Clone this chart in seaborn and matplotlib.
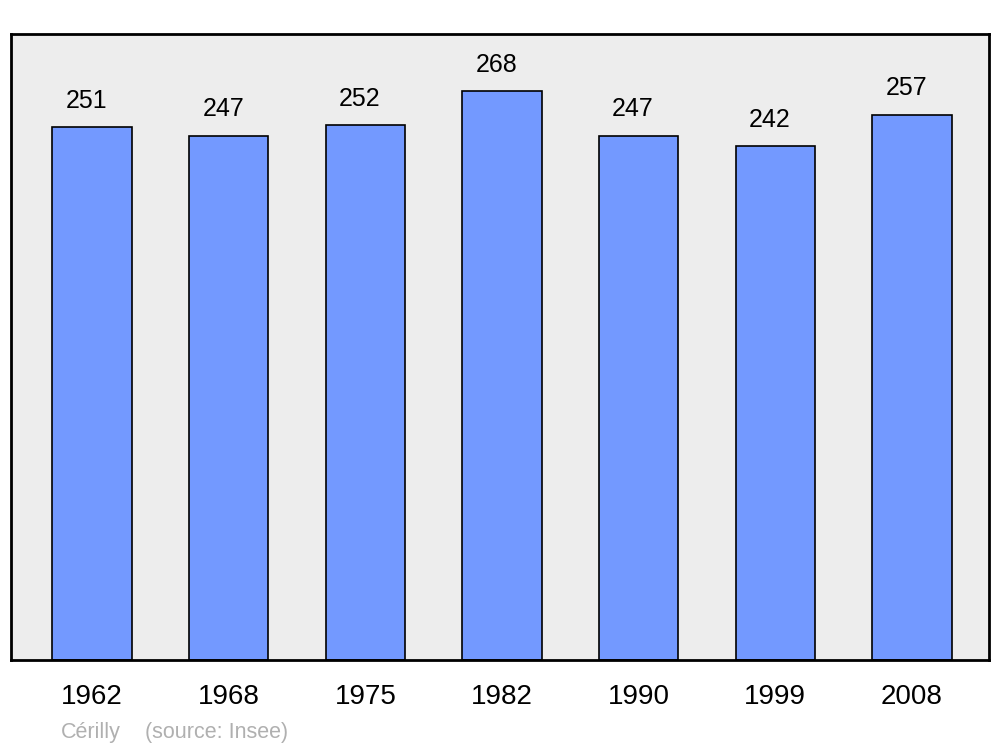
import pandas as pd
import seaborn as sns
import matplotlib.pyplot as plt

# data
years = ["1962", "1968", "1975", "1982", "1990", "1999", "2008"]
population = [251, 247, 252, 268, 247, 242, 257]

df = pd.DataFrame({"year": years, "pop": population})

sns.set_style("white")
plt.rcParams["font.family"] = ["Liberation Sans", "DejaVu Sans"]
plt.rcParams["text.color"] = "black"
plt.rcParams["xtick.color"] = "black"

fig = plt.figure(figsize=(10, 7.47), dpi=100)
ax = fig.add_axes([0.011, 0.1165, 0.978, 0.838])
ax.set_facecolor("#ededed")

sns.barplot(data=df, x="year", y="pop", color="#7399ff", saturation=1,
            width=0.58, edgecolor="black", linewidth=1.2, ax=ax)

ax.set_xlim(-0.593, 6.564)
ax.set_ylim(0, 295)

# value labels above bars
for i, v in enumerate(population):
    ax.annotate(str(v), (i, v), xytext=(-4, 19), textcoords="offset points",
                ha="center", va="center", fontsize=18, color="black")

ax.set_yticks([])
ax.set_xlabel("")
ax.set_ylabel("")
ax.tick_params(axis="x", length=0, labelsize=20, pad=17.5, labelcolor="black")
for lbl in ax.get_xticklabels():
    lbl.set_x(lbl.get_position()[0])

for s in ax.spines.values():
    s.set_visible(True)
    s.set_color("black")
    s.set_linewidth(2)

fig.text(0.061, 0.012, "Cérilly", color="#b0b0b0", fontsize=15.5,
         ha="left", va="baseline")
fig.text(0.145, 0.012, "(source: Insee)", color="#b0b0b0", fontsize=15.5,
         ha="left", va="baseline")

plt.savefig("out.png", dpi=100)
